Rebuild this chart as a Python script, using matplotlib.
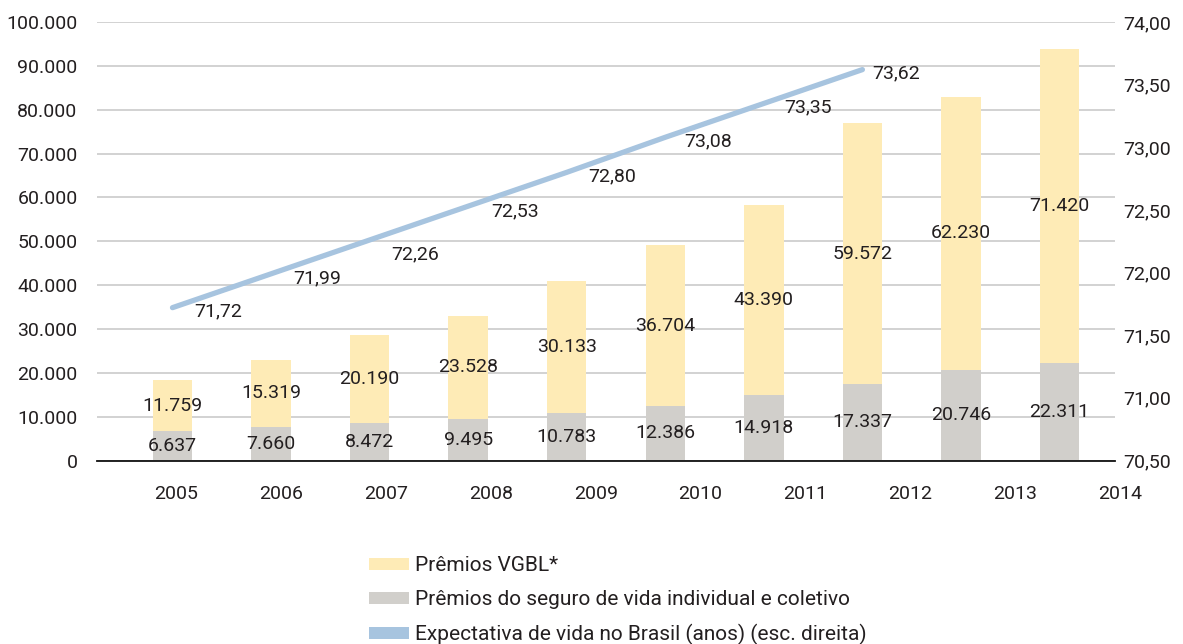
import numpy as np
import matplotlib
matplotlib.use("Agg")
import matplotlib.pyplot as plt
from matplotlib.patches import Patch
from matplotlib.ticker import FuncFormatter, MultipleLocator
from matplotlib.transforms import blended_transform_factory

# ---- data ----
years = ["2005", "2006", "2007", "2008", "2009", "2010", "2011", "2012", "2013", "2014"]
premios_vida = [6637, 7660, 8472, 9495, 10783, 12386, 14918, 17337, 20746, 22311]
premios_vgbl = [11759, 15319, 20190, 23528, 30133, 36704, 43390, 59572, 62230, 71420]
expectativa = [71.72, 71.99, 72.26, 72.53, 72.80, 73.08, 73.35, 73.62]

leg_vgbl = "Prêmios VGBL*"
leg_vida = "Prêmios do seguro de vida individual e coletivo"
leg_exp = "Expectativa de vida no Brasil (anos) (esc. direita)"

# ---- style ----
plt.rcParams['font.family'] = ['Roboto', 'DejaVu Sans']
FS = 14
TXT = "#231f20"
C_YEL = "#feebb6"
C_GRY = "#d1cfcb"
C_BLU = "#a7c4df"

fig = plt.figure(figsize=(11.83, 6.44), dpi=100)
W, H = 1183, 644
x0, x1, ytop, ybot = 97, 1115, 22, 460.5
ax = fig.add_axes([x0 / W, 1 - ybot / H, (x1 - x0) / W, (ybot - ytop) / H])

n = len(years)
xb = np.arange(n)
bw = 0.40
vida = np.array(premios_vida)
vgbl = np.array(premios_vgbl)

ax.bar(xb, vida, width=bw, color=C_GRY, zorder=2)
ax.bar(xb, vgbl, width=bw, bottom=vida, color=C_YEL, zorder=2)

ax.set_xlim(-0.766, 9.563)
ax.set_ylim(0, 100000)
ax.yaxis.set_major_locator(MultipleLocator(10000))
ax.yaxis.set_major_formatter(FuncFormatter(lambda v, p: f"{int(v):,}".replace(",", ".")))
ax.grid(axis='y', color="#c6c6c6", linewidth=1.1, zorder=0)
ax.set_axisbelow(True)
for s in ['top', 'right', 'left']:
    ax.spines[s].set_visible(False)
ax.spines['bottom'].set_color("#111111")
ax.spines['bottom'].set_linewidth(1.3)
ax.spines['bottom'].set_zorder(3)
ax.tick_params(axis='y', length=0, pad=14, labelsize=FS, labelcolor=TXT)
ax.set_xticks([])

# data labels on bars
for i in range(n):
    ax.text(xb[i], vida[i] / 2, f"{vida[i]:,}".replace(",", "."), ha='center', va='center',
            fontsize=FS, color=TXT, zorder=5)
    ax.text(xb[i], vida[i] + vgbl[i] / 2, f"{vgbl[i]:,}".replace(",", "."), ha='center', va='center',
            fontsize=FS, color=TXT, zorder=5)

# year labels (offset spacing as in original)
trans = blended_transform_factory(ax.transData, ax.transAxes)
lab_first, lab_step = 0.04, 1.0636
for i, y in enumerate(years):
    ax.text(lab_first + i * lab_step, -0.0775, y, transform=trans, ha='center', va='center',
            fontsize=FS, color=TXT, clip_on=False)

# right axis
ax2 = ax.twinx()
ax2.set_ylim(70.5, 74.0)
ax2.yaxis.set_major_locator(MultipleLocator(0.5))
ax2.yaxis.set_major_formatter(FuncFormatter(lambda v, p: f"{v:.2f}".replace(".", ",")))
for s in ['top', 'right', 'left', 'bottom']:
    ax2.spines[s].set_visible(False)
ax2.tick_params(axis='y', length=0, pad=6, labelsize=FS, labelcolor=TXT)

xl = np.arange(len(expectativa))
ax2.plot(xl, expectativa, color=C_BLU, linewidth=3.8, solid_capstyle='round', zorder=4)
offsets = [(33, -3), (33, -3), (33, -10), (34, -4), (33, -3), (31, -3), (32, -3), (24, -3)]
for i, v in enumerate(expectativa):
    ax2.annotate(f"{v:.2f}".replace(".", ","), (xl[i], v), xytext=offsets[i],
                 textcoords='offset points', ha='center', va='center', fontsize=FS, color=TXT)

# legend
handles = [Patch(facecolor=C_YEL, edgecolor='none', label=leg_vgbl),
           Patch(facecolor=C_GRY, edgecolor='none', label=leg_vida),
           Patch(facecolor=C_BLU, edgecolor='none', label=leg_exp)]
fig.legend(handles=handles, loc='upper left', bbox_to_anchor=(369 / W, 1 - 556 / H),
           frameon=False, fontsize=15, handlelength=1.9, handleheight=0.5,
           handletextpad=0.3, labelspacing=0.72, borderpad=0, borderaxespad=0,
           labelcolor=TXT)

fig.savefig("out.png", dpi=100)
